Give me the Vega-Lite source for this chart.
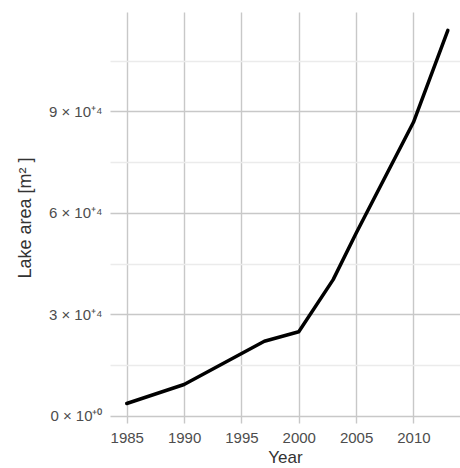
{
  "$schema": "https://vega.github.io/schema/vega-lite/v6.json",
  "width": 350,
  "height": 411,
  "autosize": {"type": "none"},
  "padding": {"left": 110, "top": 12, "right": 0, "bottom": 45},
  "background": "white",
  "config": {
    "view": {"stroke": null},
    "font": "Liberation Sans"
  },
  "data": {
    "values": [
      {"year": 1985, "area": 3700},
      {"year": 1990, "area": 9300},
      {"year": 1997, "area": 22100},
      {"year": 2000, "area": 24900},
      {"year": 2003, "area": 40300},
      {"year": 2005, "area": 54000},
      {"year": 2010, "area": 86800},
      {"year": 2013, "area": 114000}
    ]
  },
  "mark": {"type": "line", "color": "black", "strokeWidth": 3.5, "strokeJoin": "round", "strokeCap": "round"},
  "encoding": {
    "x": {
      "field": "year",
      "type": "quantitative",
      "scale": {"domain": [1983.54, 2014.06], "nice": false, "zero": false},
      "axis": {
        "values": [1985, 1990, 1995, 2000, 2005, 2010],
        "format": "d",
        "title": "Year",
        "titleFont": "Liberation Sans",
        "titleFontSize": 17,
        "titleFontWeight": "normal",
        "titleColor": "#333333",
        "titlePadding": 4,
        "labelFont": "Liberation Sans",
        "labelFontSize": 15,
        "labelColor": "#4d4d4d",
        "labelPadding": 7,
        "ticks": false,
        "tickSize": 0,
        "domain": false,
        "grid": true,
        "gridColor": "#c8c8c8",
        "gridWidth": 1.4
      }
    },
    "y": {
      "field": "area",
      "type": "quantitative",
      "scale": {"domain": [-2070, 119400], "nice": false, "zero": false},
      "axis": {
        "values": [0, 15000, 30000, 45000, 60000, 75000, 90000, 105000],
        "labelExpr": "datum.value === 0 ? '0 × 10⁺⁰' : (datum.value % 30000 === 0 ? (datum.value / 10000) + ' × 10⁺⁴' : '')",
        "title": "Lake area  [m² ]",
        "titleFont": "Liberation Sans",
        "titleFontSize": 18,
        "titleFontWeight": "normal",
        "titleColor": "#333333",
        "titlePadding": 14,
        "labelFont": "Liberation Sans",
        "labelFontSize": 15,
        "labelColor": "#4d4d4d",
        "labelPadding": 8,
        "ticks": false,
        "tickSize": 0,
        "domain": false,
        "grid": true,
        "gridColor": {"condition": {"test": "datum.value % 30000 === 0", "value": "#c8c8c8"}, "value": "#ebebeb"},
        "gridWidth": 1.4
      }
    }
  }
}
